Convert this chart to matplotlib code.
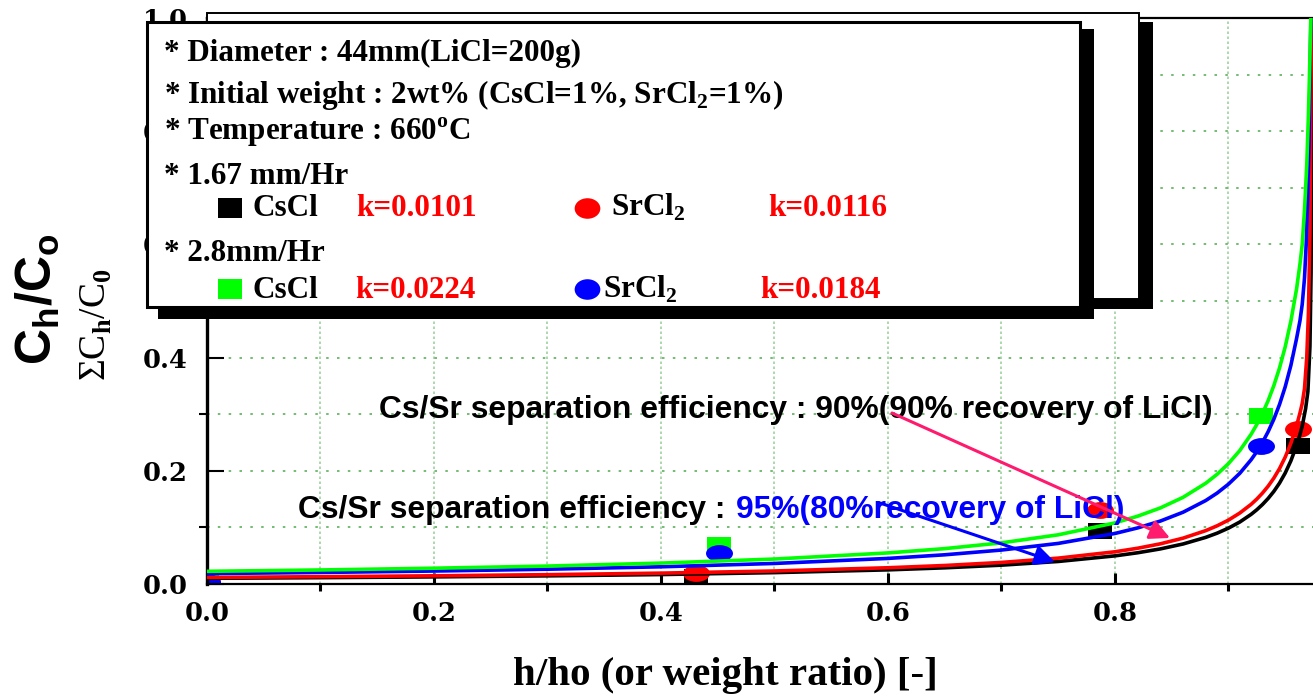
import matplotlib
matplotlib.use('Agg')
import matplotlib.pyplot as plt
from matplotlib.path import Path
from matplotlib.patches import Rectangle
from matplotlib.ticker import MultipleLocator, FormatStrFormatter

plt.rcParams['font.family'] = 'DejaVu Serif'
plt.rcParams['font.weight'] = 'bold'
plt.rcParams['mathtext.fontset'] = 'custom'
plt.rcParams['mathtext.rm'] = 'Liberation Serif:bold'
plt.rcParams['mathtext.sf'] = 'Liberation Sans:bold'
plt.rcParams['mathtext.tt'] = 'Liberation Serif'

# fitted lines, read along the curves of the chart
h_body = [0.0, 0.1, 0.2, 0.3, 0.4, 0.5, 0.6, 0.65, 0.7, 0.75, 0.8, 0.82, 0.84,
          0.86, 0.88, 0.89, 0.9, 0.91, 0.92, 0.925, 0.93, 0.935, 0.94, 0.945,
          0.95, 0.955, 0.96]

fit_cs167_x = h_body + [0.963, 0.965, 0.968, 0.970, 0.9718, 0.9728, 0.9738]
fit_cs167_y = [0.0101, 0.0112, 0.0126, 0.0144, 0.0167, 0.0201, 0.0250, 0.0286,
               0.0333, 0.0398, 0.0497, 0.0552, 0.0620, 0.0707, 0.0824, 0.0898,
               0.0987, 0.1095, 0.1231, 0.1312, 0.1405, 0.1512, 0.1636, 0.1783,
               0.1960, 0.2176, 0.2444,
               0.264, 0.279, 0.31, 0.34, 0.42, 0.55, 1.02]

fit_sr167_x = h_body + [0.963, 0.965, 0.967, 0.969, 0.9705, 0.9718, 0.9732]
fit_sr167_y = [0.0116, 0.0129, 0.0145, 0.0165, 0.0192, 0.0230, 0.0287, 0.0327,
               0.0381, 0.0457, 0.0569, 0.0632, 0.0710, 0.0810, 0.0943, 0.1028,
               0.1129, 0.1254, 0.1408, 0.1501, 0.1607, 0.1729, 0.1871, 0.2039,
               0.2241, 0.2487, 0.2794,
               0.302, 0.319, 0.345, 0.40, 0.48, 0.62, 1.02]

fit_cs28_x = h_body + [0.963, 0.965, 0.967, 0.969, 0.9705, 0.9718, 0.9728]
fit_cs28_y = [0.0224, 0.0248, 0.0279, 0.0317, 0.0369, 0.0441, 0.0549, 0.0625,
              0.0727, 0.0869, 0.1080, 0.1198, 0.1344, 0.1531, 0.1780, 0.1938,
              0.2127, 0.2358, 0.2646, 0.2819, 0.3015, 0.3241, 0.3506, 0.3817,
              0.4189, 0.4644, 0.5210,
              0.565, 0.60, 0.66, 0.74, 0.83, 0.93, 1.02]

fit_sr28_x = h_body + [0.963, 0.965, 0.967, 0.9685, 0.9698, 0.971, 0.9728]
fit_sr28_y = [0.0184, 0.0204, 0.0229, 0.0261, 0.0304, 0.0363, 0.0452, 0.0516,
              0.0600, 0.0717, 0.0893, 0.0991, 0.1112, 0.1268, 0.1475, 0.1606,
              0.1764, 0.1956, 0.2196, 0.2339, 0.2503, 0.2692, 0.2912, 0.3172,
              0.3483, 0.3862, 0.4335,
              0.465, 0.494, 0.54, 0.60, 0.68, 0.78, 1.02]

# measured points
cs167_x = [0.0, 0.431, 0.787, 0.961]
cs167_y = [0.003, 0.012, 0.094, 0.243]
sr167_x = [0.0, 0.431, 0.787, 0.961]
sr167_y = [0.003, 0.019, 0.131, 0.274]
cs28_x = [0.0, 0.451, 0.929]
cs28_y = [0.003, 0.069, 0.296]
sr28_x = [0.0, 0.451, 0.929]
sr28_y = [0.003, 0.055, 0.244]

x_ticks = [0.0, 0.2, 0.4, 0.6, 0.8]
y_ticks = [0.0, 0.2, 0.4, 0.6, 0.8, 1.0]

# stretched markers (the chart was widened)
circ = Path.unit_circle()
wide_circle = Path(circ.vertices * [1.6, 1.0], circ.codes)
box_circle = Path(circ.vertices * [1.25, 1.0], circ.codes)
sq_codes = [Path.MOVETO, Path.LINETO, Path.LINETO, Path.LINETO, Path.CLOSEPOLY]
wide_square = Path([(-1.5, -1), (1.5, -1), (1.5, 1), (-1.5, 1), (-1.5, -1)], sq_codes)
box_square = Path([(-1.15, -1), (1.15, -1), (1.15, 1), (-1.15, 1), (-1.15, -1)], sq_codes)

fig = plt.figure(figsize=(13.13, 6.96), dpi=100)
ax = fig.add_axes([207 / 1313, 112 / 696, 1 - 207 / 1313, 566 / 696], zorder=1)

ax.plot(cs167_x, cs167_y, ls='none', marker=wide_square, ms=17.3, mew=0, color='black', zorder=2)
ax.plot(sr167_x, sr167_y, ls='none', marker=wide_circle, ms=19.4, mew=0, color='#ff0000', zorder=2)
ax.plot(cs28_x, cs28_y, ls='none', marker=wide_square, ms=17.3, mew=0, color='#00ff00', zorder=2)
ax.plot(sr28_x, sr28_y, ls='none', marker=wide_circle, ms=19.4, mew=0, color='#0000ff', zorder=2)

ax.plot(fit_cs167_x, fit_cs167_y, color='black', lw=2.6, zorder=3)
ax.plot(fit_sr167_x, fit_sr167_y, color='#ff0000', lw=2.6, zorder=3)
ax.plot(fit_sr28_x, fit_sr28_y, color='#0000ff', lw=2.6, zorder=3)
ax.plot(fit_cs28_x, fit_cs28_y, color='#00ff00', lw=2.6, zorder=3)

ax.set_xlim(0, 0.9745)
ax.set_ylim(0, 1.0)
ax.set_xticks(x_ticks)
ax.set_yticks(y_ticks)
ax.xaxis.set_minor_locator(MultipleLocator(0.1))
ax.yaxis.set_minor_locator(MultipleLocator(0.1))
ax.xaxis.set_major_formatter(FormatStrFormatter('%.1f'))
ax.yaxis.set_major_formatter(FormatStrFormatter('%.1f'))
ax.tick_params(axis='both', direction='in', labelsize=18.5, top=True, right=False)
ax.tick_params(axis='x', which='major', length=8, width=2.2, pad=12)
ax.tick_params(axis='x', which='minor', length=5, width=2.2)
ax.tick_params(axis='y', which='major', length=12, width=1.5, pad=14)
ax.tick_params(axis='y', which='minor', length=6, width=1.5)
ax.spines['right'].set_visible(False)
ax.spines['left'].set_linewidth(2.4)
ax.spines['bottom'].set_linewidth(1.6)
ax.spines['top'].set_linewidth(1.6)
ax.set_axisbelow(True)
ax.xaxis.grid(True, which='both', color='#9ed29e', ls=(0, (1.5, 1.5)), lw=1.2)
ax.yaxis.grid(True, which='both', color='#5caf5c', ls=(0, (1.5, 5)), lw=1.2)

# overlay in pixel coordinates for boxes and notes
ov = fig.add_axes([0, 0, 1, 1], zorder=5)
ov.set_xlim(0, 1313)
ov.set_ylim(696, 0)
ov.axis('off')

ov.add_patch(Rectangle((220, 22), 933, 287, facecolor='black', edgecolor='none'))
ov.add_patch(Rectangle((207, 13), 932, 286, facecolor='white', edgecolor='black', lw=1.4))
ov.add_patch(Rectangle((158, 29), 936, 290, facecolor='black', edgecolor='none'))
ov.add_patch(Rectangle((147, 22), 933, 285, facecolor='white', edgecolor='black', lw=2.2))

serif = dict(family='Liberation Serif', weight='bold', size=22.4, va='baseline', ha='left')
box_lines = ['* Diameter : 44mm(LiCl=200g)',
             '* Initial weight : 2wt% (CsCl=1%, SrCl$_2$=1%)',
             '* Temperature : 660$^\\mathrm{o}$C',
             '* 1.67 mm/Hr',
             '* 2.8mm/Hr']
for txt, yb in zip(box_lines, [61, 103, 140, 184, 261]):
    ov.text(164, yb, txt, **serif)

ov.plot([230], [208], marker=box_square, ms=17, mew=0, color='black', ls='none')
ov.plot([230], [289], marker=box_square, ms=17, mew=0, color='#00ff00', ls='none')
ov.plot([587], [208], marker=box_circle, ms=18.5, mew=0, color='#ff0000', ls='none')
ov.plot([587], [289], marker=box_circle, ms=18.5, mew=0, color='#0000ff', ls='none')
ov.text(253, 216, 'CsCl', **serif)
ov.text(253, 298, 'CsCl', **serif)
ov.text(611, 216, 'SrCl$_2$', **serif)
ov.text(603, 298, 'SrCl$_2$', **serif)
ov.text(356, 216, 'k=0.0101', color='#ff0000', **serif)
ov.text(768, 216, 'k=0.0116', color='#ff0000', **serif)
ov.text(355, 298, 'k=0.0224', color='#ff0000', **serif)
ov.text(760, 298, 'k=0.0184', color='#ff0000', **serif)

sans = dict(family='Liberation Sans', weight='bold', size=22.9, va='baseline', ha='left')
ov.text(379, 418, 'Cs/Sr separation efficiency : 90%(90% recovery of LiCl)', color='black', **sans)
ov.text(298, 518, 'Cs/Sr separation efficiency : ', color='black', **sans)
ov.text(736, 518, '95%(80%recovery of LiCl)', color='#0000ff', **sans)

ov.annotate('', xy=(1170, 538), xytext=(892, 413),
            arrowprops=dict(arrowstyle='-|>,head_length=0.6,head_width=0.3', color='#ff1a6e',
                            lw=2.2, shrinkA=0, shrinkB=0, mutation_scale=20))
ov.annotate('', xy=(1055, 562), xytext=(880, 503),
            arrowprops=dict(arrowstyle='-|>,head_length=0.6,head_width=0.3', color='#0000ff',
                            lw=2.2, shrinkA=0, shrinkB=0, mutation_scale=20))

ov.text(38, 299, r'$\mathsf{C_h/C_o}$', rotation=90, ha='center', va='center', size=36)
ov.text(96, 325, r'ΣC$_\mathtt{h}$/C$_\mathtt{0}$', family='Liberation Serif', weight='normal',
        rotation=90, ha='center', va='center', size=27)
ov.text(725, 676, 'h/ho (or weight ratio) [-]', family='Liberation Serif', weight='bold',
        size=29.5, ha='center', va='center')

fig.savefig('out.png', dpi=100)
